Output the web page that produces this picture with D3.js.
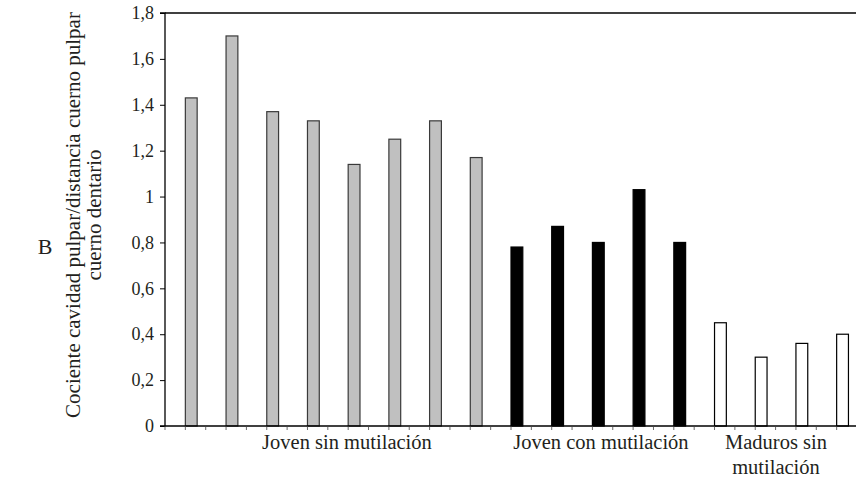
<!DOCTYPE html>
<html>
<head>
<meta charset="utf-8">
<script src="https://cdn.jsdelivr.net/npm/d3@7"></script>
<style>
body { margin: 0; background: #fff; }
</style>
</head>
<body>
<svg width="856" height="481"></svg>
<script>
// data
const jovenSin = [1.43, 1.70, 1.37, 1.33, 1.14, 1.25, 1.33, 1.17]
const jovenCon = [0.78, 0.87, 0.80, 1.03, 0.80]
const maduros = [0.45, 0.30, 0.36, 0.40]
const yTicks = [0, 0.2, 0.4, 0.6, 0.8, 1, 1.2, 1.4, 1.6, 1.8]
const groupNames = [["Joven sin mutilación"], ["Joven con mutilación"], ["Maduros sin", "mutilación"]]
const groupFills = ["#c0c0c0", "#000000", "#ffffff"]
const groupStrokes = ["#3a3a3a", "#000000", "#000000"]
const groupLabelPos = [4.47, 10.71, 15.01] // label centre, in category units
const titleLines = ["Cociente cavidad pulpar/distancia cuerno pulpar", "cuerno dentario"]

const serif = "Liberation Serif"
const margin = { left: 165, top: 13, right: 857, bottom: 426 }

const svg = d3.select("svg")

const bars = []
;[jovenSin, jovenCon, maduros].forEach((arr, g) => {
	arr.forEach(v => bars.push({ g, v, id: bars.length }))
})

const xScale = d3.scaleBand().domain(bars.map(d => d.id)).range([margin.left, margin.right]).padding(0)
const bw = xScale.bandwidth()
const yScale = d3.scaleLinear().domain([0, 1.8]).range([margin.bottom, margin.top])
const posScale = d3.scaleLinear().domain([0, bars.length]).range([margin.left, margin.right])

// frame top line
svg.append("line")
	.attr("x1", margin.left).attr("x2", margin.right)
	.attr("y1", margin.top).attr("y2", margin.top)
	.style("stroke", "#000").style("stroke-width", 1.3)

// bars
svg.selectAll("rect.bar")
	.data(bars)
	.enter().append("rect")
	.attr("class", "bar")
	.attr("x", d => xScale(d.id) + bw / 2)
	.attr("width", bw * 0.29)
	.attr("y", d => yScale(d.v))
	.attr("height", d => yScale(0) - yScale(d.v))
	.style("fill", d => groupFills[d.g])
	.style("stroke", d => groupStrokes[d.g])
	.style("stroke-width", 1.2)

// y axis
const yAxis = d3.axisLeft(yScale).tickValues(yTicks).tickSize(5).tickPadding(6)
	.tickFormat(d => String(d).replace(".", ","))
const yG = svg.append("g").attr("transform", `translate(${margin.left},0)`).call(yAxis)
yG.select(".domain").style("stroke", "#000").style("stroke-width", 1.3)
	.attr("d", `M-5,${margin.bottom}H0V${margin.top}H-5`)
yG.selectAll(".tick line").style("stroke", "#000")
yG.selectAll(".tick text").attr("font-size", 18).attr("font-family", serif).attr("fill", "#231f20")

// x axis, ticks every half category
const halfTicks = d3.range(bars.length * 2 + 1).map(k => k / 2)
const xG = svg.append("g")
xG.append("line")
	.attr("x1", margin.left).attr("x2", margin.right)
	.attr("y1", margin.bottom).attr("y2", margin.bottom)
	.style("stroke", "#000").style("stroke-width", 1.5)
xG.selectAll("line.tk")
	.data(halfTicks)
	.enter().append("line")
	.attr("class", "tk")
	.attr("x1", d => posScale(d)).attr("x2", d => posScale(d))
	.attr("y1", margin.bottom).attr("y2", margin.bottom + 4)
	.style("stroke", "#444").style("stroke-width", 0.8)

// group labels, one text element per line
groupNames.forEach((lines, g) => {
	lines.forEach((s, i) => {
		svg.append("text")
			.attr("x", posScale(groupLabelPos[g]))
			.attr("y", 449 + i * 25)
			.attr("text-anchor", "middle")
			.attr("font-family", serif)
			.attr("font-size", 20.5)
			.attr("fill", "#231f20")
			.text(s)
	})
})

// y title
titleLines.forEach((s, i) => {
	svg.append("text")
		.attr("transform", `translate(${80 + i * 21},215) rotate(-90)`)
		.attr("text-anchor", "middle")
		.attr("font-family", serif)
		.attr("font-size", 21)
		.attr("fill", "#231f20")
		.text(s)
})

svg.append("text")
	.attr("x", 45).attr("y", 254)
	.attr("text-anchor", "middle")
	.attr("font-family", serif)
	.attr("font-size", 22)
	.attr("fill", "#231f20")
	.text("B")
</script>
</body>
</html>
